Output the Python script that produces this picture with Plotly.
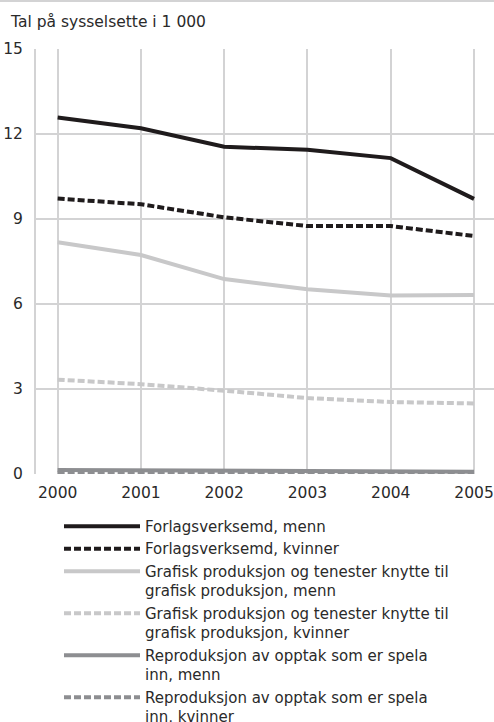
import plotly.graph_objects as go

years = [2000, 2001, 2002, 2003, 2004, 2005]

forlag_menn = [12.58, 12.2, 11.55, 11.44, 11.15, 9.71]
forlag_kvinner = [9.72, 9.52, 9.06, 8.75, 8.75, 8.4]
grafisk_menn = [8.18, 7.73, 6.88, 6.52, 6.3, 6.32]
grafisk_kvinner = [3.33, 3.17, 2.94, 2.68, 2.54, 2.49]
repro_menn = [0.14, 0.13, 0.12, 0.1, 0.09, 0.08]
repro_kvinner = [0.04, 0.04, 0.04, 0.04, 0.04, 0.04]

names = [
    "Forlagsverksemd, menn",
    "Forlagsverksemd, kvinner",
    "Grafisk produksjon og tenester knytte til<br>grafisk produksjon, menn",
    "Grafisk produksjon og tenester knytte til<br>grafisk produksjon, kvinner",
    "Reproduksjon av opptak som er spela<br>inn, menn",
    "Reproduksjon av opptak som er spela<br>inn, kvinner",
]

yticks = [0, 3, 6, 9, 12, 15]

BLACK = "#1f1b1c"
LIGHT = "#c8c8c9"
MID = "#8d8e91"
DASH = "7px,3px"

series = [
    (forlag_menn, BLACK, "solid"),
    (forlag_kvinner, BLACK, DASH),
    (grafisk_menn, LIGHT, "solid"),
    (grafisk_kvinner, LIGHT, DASH),
    (repro_menn, MID, "solid"),
    (repro_kvinner, MID, DASH),
]

fig = go.Figure()
for (vals, col, dash), name in zip(series, names):
    fig.add_trace(go.Scatter(
        x=years, y=vals, name=name, mode="lines",
        line=dict(color=col, width=4, dash=dash),
    ))

FONT = "DejaVu Sans"
TXT = "#2a2a2a"
GRID = "#d3d3d4"

fig.update_layout(
    width=494, height=722,
    margin=dict(l=36, r=0, t=49, b=248, autoexpand=False),
    paper_bgcolor="white", plot_bgcolor="white",
    font=dict(family=FONT, size=15, color=TXT),
    showlegend=True,
    legend=dict(
        x=(59 - 36) / 458, xanchor="left",
        y=-0.075 - 4 / 425, yanchor="top",
        itemwidth=76,
        valign="top",
        font=dict(family=FONT, size=15, color=TXT),
        tracegroupgap=0,
        bgcolor="rgba(0,0,0,0)",
    ),
    xaxis=dict(
        range=[1999.74, 2005.24],
        tickvals=years, ticktext=[str(y) for y in years],
        showgrid=True, gridcolor=GRID, gridwidth=2,
        zeroline=False, showline=False,
        ticks="outside", ticklen=4, tickcolor="rgba(0,0,0,0)",
        tickfont=dict(family=FONT, size=15.5, color=TXT),
        fixedrange=True,
    ),
    yaxis=dict(
        range=[0, 15],
        tickvals=yticks,
        showgrid=True, gridcolor=GRID, gridwidth=2,
        zeroline=False, showline=True, linecolor=GRID, linewidth=2,
        ticks="outside", ticklen=8, tickcolor="rgba(0,0,0,0)",
        tickfont=dict(family=FONT, size=15.5, color=TXT),
        fixedrange=True,
    ),
    shapes=[dict(type="line", xref="paper", yref="paper",
                 x0=-36 / 458, x1=1, y0=1 + 48 / 425, y1=1 + 48 / 425,
                 line=dict(color=GRID, width=2))],
    annotations=[dict(
        text="Tal på sysselsette i 1 000", xref="paper", yref="paper",
        x=-28 / 458, y=1 + 27 / 425, xanchor="left", yanchor="middle",
        showarrow=False, font=dict(family=FONT, size=15.5, color=TXT),
    )],
)

fig.write_html("out.html", config={"displayModeBar": False},
               post_script="document.body.style.margin='0';document.body.style.overflow='hidden';")
